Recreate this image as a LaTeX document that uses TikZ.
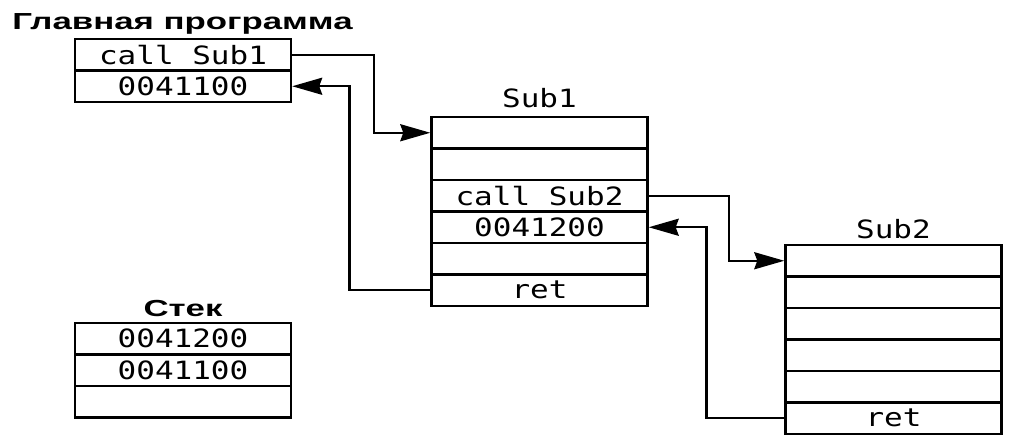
\documentclass[tikz,border=0pt]{standalone}
\usepackage{fontspec}
\usepackage{tikz}
\usetikzlibrary{arrows.meta}
\newfontfamily\cellfont[FakeStretch=1.23]{DejaVu Sans Mono}
\newfontfamily\headfont[FakeStretch=1.5]{Liberation Sans}

\begin{document}
\begin{tikzpicture}[x=0.5pt, y=-0.5pt]
  \pgfmathsetmacro{\rh}{31.5}           % row height (px)

  \tikzset{
    cell/.style={draw, line width=1.2pt, minimum width=108pt, minimum height=15.75pt,
      inner sep=0pt, font=\cellfont\fontsize{12.6pt}{14pt}\selectfont},
    block title/.style={anchor=base, inner sep=0pt, font=\cellfont\fontsize{12.6pt}{14pt}\selectfont},
    head label/.style={inner sep=0pt, font=\headfont\bfseries\fontsize{11.6pt}{13pt}\selectfont},
    link/.style={line width=1.2pt, -{Stealth[length=15pt, width=8.5pt, inset=1.5pt]}},
  }

  \newcommand{\drawcells}[4]{
    \foreach \t [count=\i] in {#4} {
      \node[cell] (#1\i) at (#2, #3+\rh*\i-0.5*\rh) {\t};
    }
  }

  \useasboundingbox (0,0) rectangle (1009,440);

  % main program and stack
  \node[head label, anchor=base west] (mainT) at (12,29) {Главная программа};
  \drawcells{M}{183}{39}{call Sub1, 0041100};
  \node[head label, anchor=base] (stackT) at (183,316) {Стек};
  \drawcells{St}{183}{323}{0041200, 0041100, {}};

  % subroutines
  \node[block title] (subAT) at (539.5,107) {Sub1};
  \drawcells{A}{539.5}{117}{{}, {}, call Sub2, 0041200, {}, ret};
  \node[block title] (subBT) at (893.5,238) {Sub2};
  \drawcells{B}{893.5}{245}{{}, {}, {}, {}, {}, ret};

  % calls and returns
  \draw[link] (M1.east) -- ++(82,0) |- (A1.west);
  \draw[link] (A6.west) -- ++(-81,0) |- (M2.east);
  \draw[link] (A3.east) -- ++(80,0) |- (B1.west);
  \draw[link] (B6.west) -- ++(-78,0) |- (A4.east);
\end{tikzpicture}
\end{document}
